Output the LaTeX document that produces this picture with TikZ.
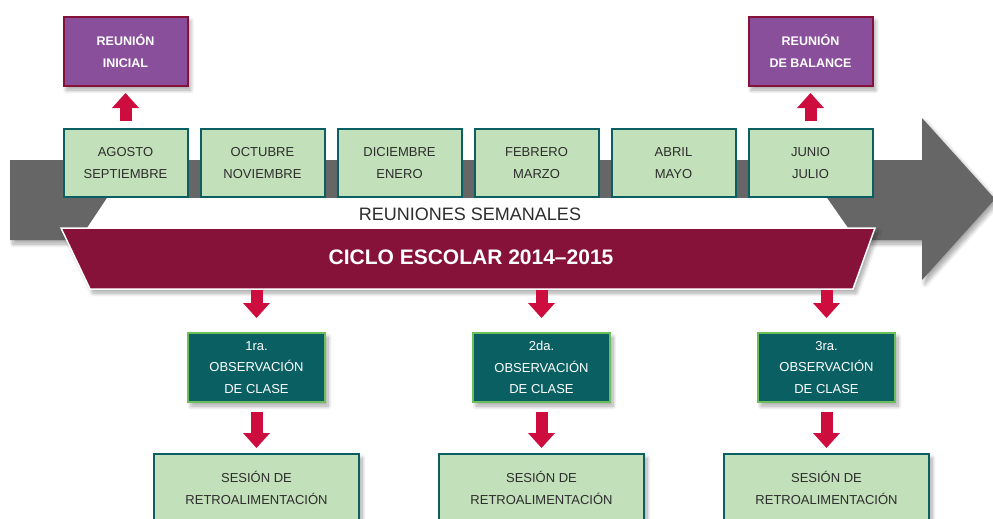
\documentclass[tikz,border=0pt]{standalone}
\usepackage{fontspec}
\setmainfont{Liberation Sans}
\usetikzlibrary{arrows.meta,shadows.blur}
\definecolor{verdeclaro}{RGB}{194,224,185}
\definecolor{verdeazul}{RGB}{10,95,98}
\definecolor{morado}{RGB}{138,79,155}
\definecolor{guinda}{RGB}{134,18,58}
\definecolor{verdeborde}{RGB}{108,190,90}
\definecolor{rojo}{RGB}{204,13,62}
\definecolor{gris}{RGB}{102,102,102}
\definecolor{texto}{RGB}{45,45,45}
\tikzset{
  sombra/.style={blur shadow={shadow blur steps=8, shadow blur radius=4pt, shadow xshift=3pt, shadow yshift=-4pt, shadow opacity=35}},
  mes/.style={draw=verdeazul, fill=verdeclaro, line width=2pt, minimum width=124pt,
    minimum height=68pt, inner sep=0pt, align=center, text=texto,
    font=\fontsize{13}{21.5}\selectfont},
  reunion/.style={draw=guinda, fill=morado, line width=2pt, minimum width=124pt,
    minimum height=69pt, inner sep=0pt, align=center, text=white, sombra,
    font=\fontsize{12.5}{22}\selectfont\bfseries},
  obs/.style={draw=verdeborde, fill=verdeazul, line width=2pt, minimum width=137pt,
    minimum height=69pt, inner sep=0pt, align=center, text=white, sombra,
    font=\fontsize{13}{21.5}\selectfont},
  sesion/.style={mes, minimum width=205pt, sombra},
  flecha/.style={draw=rojo, line width=12pt, -{Triangle[width=27pt,length=15pt,line width=0pt]}},
}
\begin{document}
\begin{tikzpicture}[x=1pt,y=-1pt]
  \useasboundingbox (0,0) rectangle (993,519);
  % flecha gris de fondo
  \fill[gris, sombra] (10,160) -- (922,160) -- (922,118) -- (995,199)
    -- (922,280) -- (922,240) -- (10,240) -- cycle;
  \fill[white] (107,198) -- (827,198) -- (848,228) -- (87,228) -- cycle;
  \filldraw[fill=guinda, draw=white, line width=1.5pt, sombra]
    (61,228) -- (875,228) -- (853,289) -- (90,289) -- cycle;
  \node[text=texto, font=\fontsize{18}{20}\selectfont] (semanal) at (470,214) {REUNIONES SEMANALES};
  \node[text=white, font=\fontsize{21}{24}\selectfont\bfseries] (ciclo) at (471,257) {CICLO ESCOLAR 2014--2015};
  % meses
  \node[mes] (ago) at (125.5,163) {AGOSTO\\SEPTIEMBRE};
  \node[mes] (oct) at (262.5,163) {OCTUBRE\\NOVIEMBRE};
  \node[mes] (dic) at (399.5,163) {DICIEMBRE\\ENERO};
  \node[mes] (feb) at (536.5,163) {FEBRERO\\MARZO};
  \node[mes] (abr) at (673.5,163) {ABRIL\\MAYO};
  \node[mes] (jun) at (810.5,163) {JUNIO\\JULIO};
  % reuniones
  \node[reunion] (inicial) at (125.5,51.5) {REUNIÓN\\INICIAL};
  \node[reunion] (balance) at (810.5,51.5) {REUNIÓN\\DE BALANCE};
  \draw[flecha, shorten <=7pt, shorten >=6pt] (ago.north) to (inicial.south);
  \draw[flecha, shorten <=7pt, shorten >=6pt] (jun.north) to (balance.south);
  % observaciones
  \coordinate (c1) at (256.5,290);
  \coordinate (c2) at (541.5,290);
  \coordinate (c3) at (826.5,290);
  \node[obs] (obs1) at (256.5,367.5) {1ra.\\OBSERVACIÓN\\DE CLASE};
  \node[obs] (obs2) at (541.5,367.5) {2da.\\OBSERVACIÓN\\DE CLASE};
  \node[obs] (obs3) at (826.5,367.5) {3ra.\\OBSERVACIÓN\\DE CLASE};
  \node[sesion] (ses1) at (256.5,488) {SESIÓN DE\\RETROALIMENTACIÓN};
  \node[sesion] (ses2) at (541.5,488) {SESIÓN DE\\RETROALIMENTACIÓN};
  \node[sesion] (ses3) at (826.5,488) {SESIÓN DE\\RETROALIMENTACIÓN};
  \draw[flecha, shorten >=14pt] (c1) to (obs1.north);
  \draw[flecha, shorten >=14pt] (c2) to (obs2.north);
  \draw[flecha, shorten >=14pt] (c3) to (obs3.north);
  \draw[flecha, shorten <=9pt, shorten >=5pt] (obs1.south) to (ses1.north);
  \draw[flecha, shorten <=9pt, shorten >=5pt] (obs2.south) to (ses2.north);
  \draw[flecha, shorten <=9pt, shorten >=5pt] (obs3.south) to (ses3.north);
\end{tikzpicture}
\end{document}
